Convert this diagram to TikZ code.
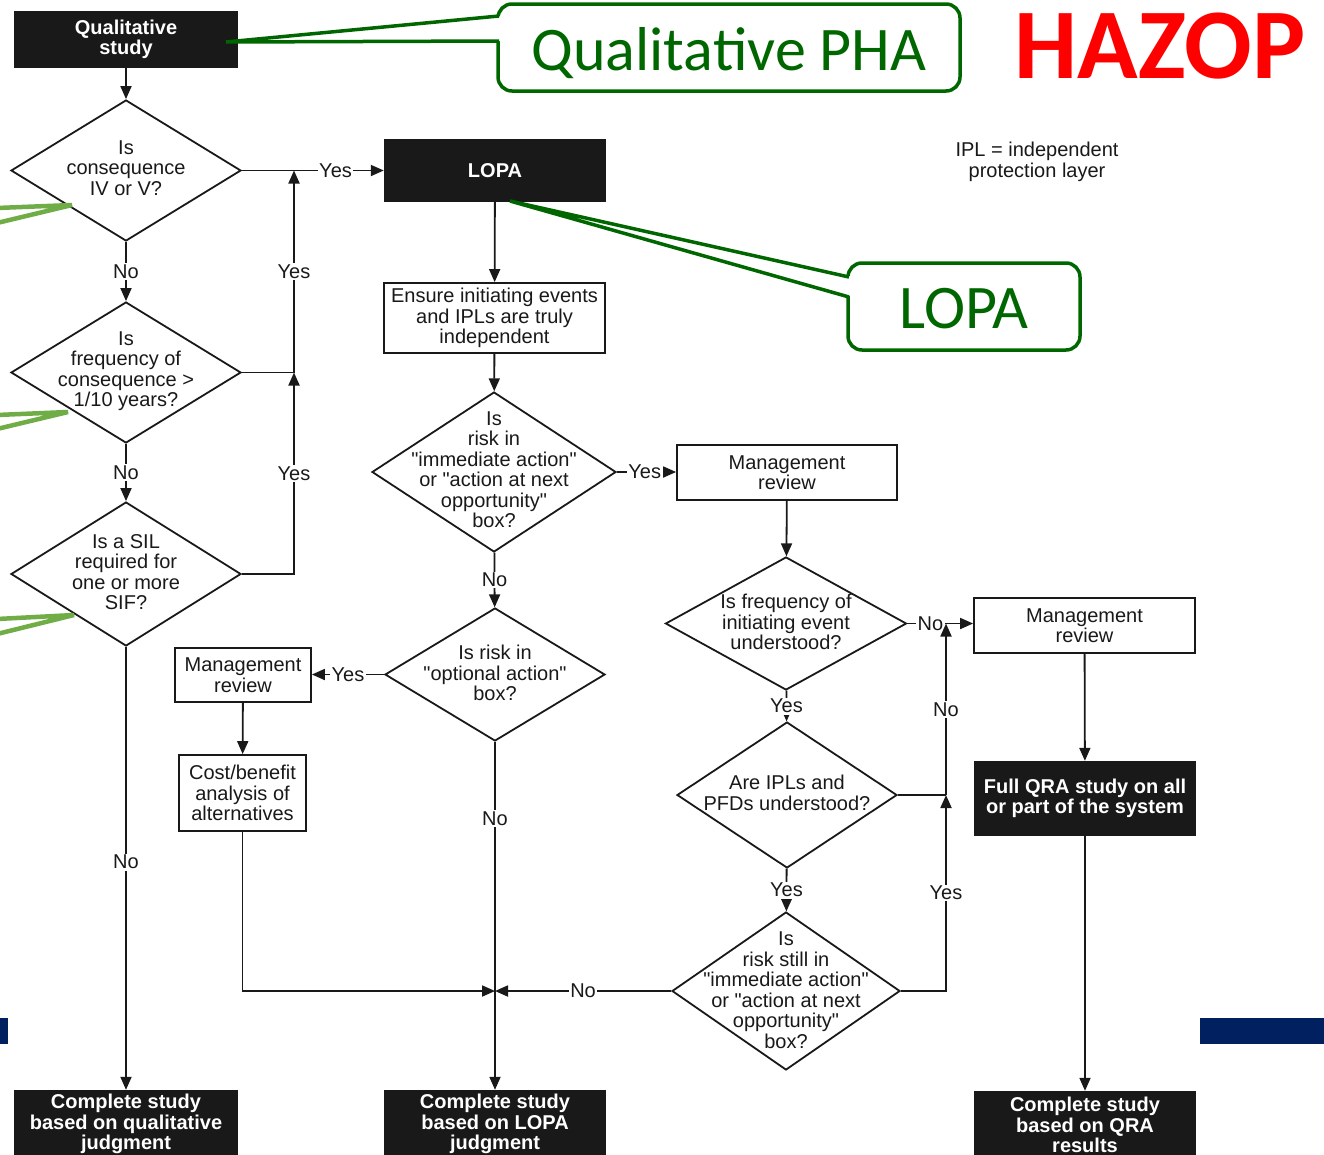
\documentclass[tikz,border=0pt]{standalone}
\usepackage{fontspec}
\setmainfont{Liberation Sans}[Ligatures=TeXOff]
\newfontfamily\callfont{Carlito}
\usetikzlibrary{shapes.geometric,arrows.meta}
\newcommand\rgsz{\fontsize{20}{20.5}\selectfont}
\newcommand\bfsz{\fontsize{20}{20.5}\selectfont\bfseries}
\definecolor{dkgreen}{RGB}{0,102,0}
\definecolor{ltgreen}{RGB}{112,173,71}
\definecolor{navy}{RGB}{0,32,96}
\definecolor{ink}{RGB}{25,25,25}
\begin{document}
\begin{tikzpicture}[x=1pt,y=-1pt,
  ln/.style={line width=1.8pt, draw=ink},
  arr/.style={ln, -{Triangle[length=13pt,width=11pt]}},
  bbox/.style={fill=ink, text=white, font=\bfsz, align=center, inner sep=0pt},
  wbox/.style={draw=ink, line width=1.8pt, fill=white, text=ink, font=\rgsz, align=center, inner sep=0pt},
  dia/.style={diamond, draw=ink, line width=1.8pt, inner sep=0pt, fill=white},
  dtxt/.style={font=\rgsz, text=ink, align=center, inner sep=0pt},
  lbl/.style={fill=white, font=\rgsz, text=ink, inner sep=1.5pt},
  callout/.style={draw=dkgreen, line width=3.5pt, fill=white, rounded corners=14pt},
  ptr/.style={draw=dkgreen, line width=3.5pt, line join=miter},
  lg/.style={draw=ltgreen, line width=4.5pt}
]
\useasboundingbox[fill=white] (0,0) rectangle (1324,1154);

% ---------- black boxes ----------
\node[bbox, minimum width=224pt, minimum height=57pt] (QS) at (126,39.5) {Qualitative\\study};
\node[bbox, minimum width=222pt, minimum height=63pt] (LOPA) at (495,170.5) {LOPA};
\node[bbox, minimum width=224pt, minimum height=68pt] (CQ) at (126,1124) {Complete study\\based on qualitative\\judgment};
\node[bbox, minimum width=222pt, minimum height=68pt] (CL) at (495,1124) {Complete study\\based on LOPA\\judgment};
\node[bbox, minimum width=222pt, minimum height=68pt] (CR) at (1085,1125) {Complete study\\based on QRA\\results};
\node[bbox, minimum width=222pt, minimum height=75pt] (FQ) at (1085,798.5) {Full QRA study on all\\or part of the system};

% ---------- white boxes ----------
\node[wbox, minimum width=221pt, minimum height=70pt] (EN) at (494.5,318) {Ensure initiating events\\and IPLs are truly\\independent};
\node[wbox, minimum width=220pt, minimum height=55pt] (M1) at (787,472.5) {Management\\review};
\node[wbox, minimum width=221pt, minimum height=55pt] (M2) at (1084.5,625.5) {Management\\review};
\node[wbox, minimum width=136pt, minimum height=54pt] (M3) at (243,675) {Management\\review};
\node[wbox, minimum width=127pt, minimum height=76pt] (CB) at (242.5,793) {Cost/benefit\\analysis of\\alternatives};

% ---------- diamonds ----------
\node[dia, minimum width=230pt, minimum height=141pt] (D1) at (126,170.5) {};
\node[dtxt] (D1t) at (126,168) {Is\\consequence\\IV or V?};
\node[dia, minimum width=230pt, minimum height=141pt] (D2) at (126,372.5) {};
\node[dtxt] (D2t) at (126,371) {Is\\frequency of\\consequence >\\1/10 years?};
\node[dia, minimum width=230pt, minimum height=144pt] (D3) at (126,574) {};
\node[dtxt] (D3t) at (126,572) {Is a SIL\\required for\\one or more\\SIF?};
\node[dia, minimum width=244pt, minimum height=160pt] (D4) at (494,472) {};
\node[dtxt] (D4t) at (494,469.5) {Is\\risk in\\"immediate action"\\or "action at next\\opportunity"\\box?};
\node[dia, minimum width=220pt, minimum height=133pt] (D5) at (495,674.5) {};
\node[dtxt] (D5t) at (495,673) {Is risk in\\"optional action"\\box?};
\node[dia, minimum width=241pt, minimum height=133pt] (D6) at (786,623.5) {};
\node[dtxt] (D6t) at (786,622) {Is frequency of\\initiating event\\understood?};
\node[dia, minimum width=220pt, minimum height=146pt] (D7) at (787,795) {};
\node[dtxt] (D7t) at (787,793) {Are IPLs and\\PFDs understood?};
\node[dia, minimum width=228pt, minimum height=158pt] (D8) at (786,991) {};
\node[dtxt] (D8t) at (786,990) {Is\\risk still in\\"immediate action"\\or "action at next\\opportunity"\\box?};

% ---------- junctions ----------
\coordinate (j1) at (294,170.5);
\coordinate (j2) at (294,372.5);
\coordinate (j3) at (946,623.5);
\coordinate (j4) at (946,795);
\coordinate (j5) at (495,991);
\coordinate (c1) at (242.5,991);

% ---------- connectors ----------
\draw[arr] (QS) -- (D1);
\draw[arr] (D1.east) -- node[lbl, pos=0.66]{Yes} (LOPA.west);
\draw[arr] (D1) -- node[lbl]{No} (D2);
\draw[arr] (D2) -- node[lbl]{No} (D3);
\draw[arr] (D3) -- node[lbl, pos=0.486]{No} (CQ);
\draw[ln] (D2.east) -- (j2);
\draw[arr] (D3.east) -| node[lbl, pos=0.75]{Yes} (j2);
\draw[arr] (j2) -- node[lbl]{Yes} (j1);

\draw[arr] (LOPA) -- (EN);
\draw[arr] (EN) -- (D4);
\draw[arr] (D4.east) -- node[lbl, pos=0.47]{Yes} (M1.west |- D4.east);
\draw[arr] (D4) -- node[lbl]{No} (D5);
\draw[arr] (D5.west) -- node[lbl, pos=0.5]{Yes} (M3.east |- D5.west);
\draw[arr] (M3) -- (CB);
\draw[arr] (D5) -- node[lbl, pos=0.22]{No} (CL);
\draw[arr] (CB.south) -- (c1) -- (j5);
\draw[arr] (D8.west) -- node[lbl, pos=0.5]{No} (j5);

\draw[arr] (M1) -- (D6);
\draw[arr] (D6.east) -- node[lbl, pos=0.35]{No} (M2.west |- D6.east);
\draw[arr] (D6) -- node[lbl]{Yes} (D7);
\draw[arr] (D7) -- node[lbl]{Yes} (D8);
\draw[ln] (D7.east) -- (j4);
\draw[arr] (j4) -- node[lbl]{No} (j3);
\draw[arr] (D8.east) -| node[lbl, pos=0.75]{Yes} (j4);
\draw[arr] (M2) -- (FQ);
\draw[arr] (FQ) -- (CR);

% ---------- note ----------
\node[dtxt] (ipl) at (1037,162) {IPL = independent\\protection layer};

% ---------- callouts ----------
\coordinate (p1) at (226,42);
\draw[callout] (498,4) rectangle (960,91);
\fill[white] (p1) -- (503,16) -- (503,41) -- cycle;
\draw[ptr] (499,16) -- (p1) -- (499,41);
\node[font=\callfont\fontsize{62}{62}\selectfont, text=dkgreen, anchor=base, inner sep=0pt] (qpha) at (729,70) {Qualitative PHA};

\coordinate (p2) at (510,201);
\draw[callout] (848,263) rectangle (1080,350);
\fill[white] (p2) -- (853,277) -- (853,297) -- cycle;
\draw[ptr] (849,277) -- (p2) -- (849,297);
\node[font=\callfont\fontsize{62}{62}\selectfont, text=dkgreen, anchor=base, inner sep=0pt] (lopat) at (964,328) {LOPA};

\node[font=\callfont\fontsize{100}{100}\selectfont\bfseries, text=red, anchor=base, inner sep=0pt] (hz) at (1160,78) {HAZOP};

% ---------- leftover light-green pointers ----------
\draw[lg] (-3,208) -- (72,205) -- (-3,223);
\draw[lg] (-3,415) -- (68,412) -- (-3,429);
\draw[lg] (-3,619) -- (74,615) -- (-3,634);

% ---------- blue bars ----------
\fill[navy] (0,1018) rectangle (8,1044);
\fill[navy] (1200,1018) rectangle (1324,1044);
\end{tikzpicture}
\end{document}
